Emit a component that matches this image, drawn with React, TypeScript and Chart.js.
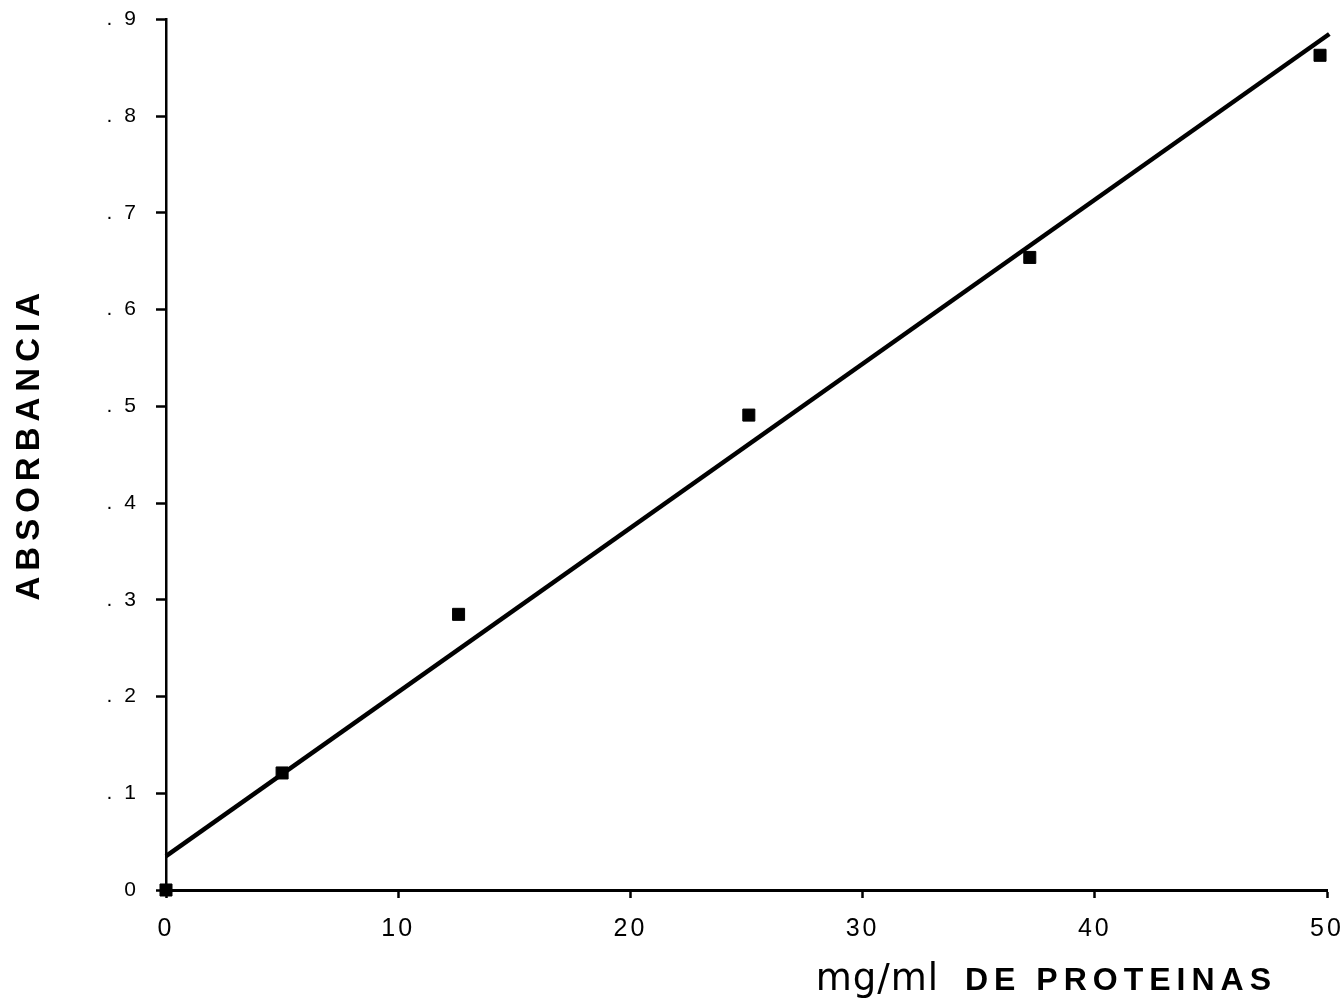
import React, { useEffect, useRef } from "react";
import { Chart, registerables } from "chart.js";

Chart.register(...registerables);

const concentration = [0, 5, 12.6, 25.1, 37.2, 49.7];
const absorbance = [0, 0.121, 0.285, 0.491, 0.654, 0.863];
const fitX = [0, 50.1];
const fitY = [0.035, 0.885];
const xTicks = [0, 10, 20, 30, 40, 50];
const yTicks = [0, 0.1, 0.2, 0.3, 0.4, 0.5, 0.6, 0.7, 0.8, 0.9];
const yTitle = "ABSORBANCIA";
const xTitleUnit = "mg/ml";
const xTitleText = "DE PROTEINAS";

const W = 1340;
const H = 1004;

function patchLabelSpacing(scale: any, spacing: string) {
  if (scale.__spacingPatched) return;
  const orig = scale.drawLabels;
  scale.drawLabels = function (area: any) {
    const c = this.ctx as any;
    const prev = c.letterSpacing;
    c.letterSpacing = spacing;
    orig.call(this, area);
    c.letterSpacing = prev || "0px";
  };
  scale.__spacingPatched = true;
}

const titlesPlugin = {
  id: "titles",
  afterDraw(chart: any) {
    const ctx = chart.ctx as any;
    const area = chart.chartArea;
    ctx.save();
    ctx.fillStyle = "#000";
    // y title
    ctx.letterSpacing = "6px";
    ctx.font = "bold 33px 'Liberation Sans', Arial, sans-serif";
    ctx.translate(30, (area.top + area.bottom) / 2 - 8);
    ctx.rotate(-Math.PI / 2);
    ctx.textAlign = "center";
    ctx.textBaseline = "middle";
    ctx.fillText(yTitle, 3, 0);
    ctx.restore();

    ctx.save();
    ctx.fillStyle = "#000";
    ctx.textBaseline = "alphabetic";
    ctx.textAlign = "left";
    ctx.letterSpacing = "6px";
    ctx.font = "bold 32px 'Liberation Sans', Arial, sans-serif";
    const baseY = area.bottom + 100;
    const textLeft = area.right - 362;
    ctx.fillText(xTitleText, textLeft, baseY);
    ctx.letterSpacing = "1px";
    ctx.font = "37px 'DejaVu Sans', sans-serif";
    ctx.textAlign = "right";
    ctx.fillText(xTitleUnit, textLeft - 26, baseY);
    ctx.restore();
  },
};

export default function App() {
  const ref = useRef<HTMLCanvasElement>(null);
  useEffect(() => {
    const canvas = ref.current;
    if (!canvas) return;
    const chart = new Chart(canvas, {
      type: "scatter",
      data: {
        datasets: [
          {
            label: "data",
            data: concentration.map((x, i) => ({ x, y: absorbance[i] })),
            pointStyle: "rect",
            pointRadius: 8.5,
            pointBackgroundColor: "#000",
            pointBorderColor: "#000",
            pointBorderWidth: 1,
            showLine: false,
            clip: false as any,
          },
          {
            label: "fit",
            data: fitX.map((x, i) => ({ x, y: fitY[i] })),
            showLine: true,
            borderColor: "#000",
            borderWidth: 4.5,
            pointRadius: 0,
            clip: false as any,
          },
        ],
      },
      options: {
        responsive: false,
        animation: false,
        devicePixelRatio: 1,
        layout: { padding: { top: 19.5, right: 13, bottom: 0, left: 0 } },
        plugins: {
          legend: { display: false },
          tooltip: { enabled: false },
          title: { display: false },
        },
        scales: {
          x: {
            type: "linear",
            min: 0,
            max: 50,
            afterBuildTicks: (scale: any) => {
              scale.ticks = xTicks.map((v) => ({ value: v }));
            },
            ticks: {
              color: "#000",
              font: { family: "'Liberation Sans', Arial, sans-serif", size: 25 },
              padding: 16,
              maxRotation: 0,
              autoSkip: false,
              callback: (v: any) => String(v),
            },
            grid: {
              display: true,
              drawOnChartArea: false,
              drawTicks: true,
              tickLength: 8,
              tickWidth: 2.5,
              tickColor: "#000",
              color: "#000",
            },
            border: { display: true, color: "#000", width: 3 },
            afterFit: (scale: any) => {
              scale.height = H - 890;
              scale.paddingLeft = 0;
              scale.paddingRight = 0;
              patchLabelSpacing(scale, "3px");
            },
          },
          y: {
            type: "linear",
            min: 0,
            max: 0.9,
            afterBuildTicks: (scale: any) => {
              scale.ticks = yTicks.map((v) => ({ value: v }));
            },
            ticks: {
              color: "#000",
              font: { family: "'Liberation Sans', Arial, sans-serif", size: 21 },
              padding: 8,
              autoSkip: false,
              callback: (v: any) => {
                const n = Math.round(Number(v) * 10);
                return n === 0 ? "0" : "." + n;
              },
            },
            grid: {
              display: true,
              drawOnChartArea: false,
              drawTicks: true,
              tickLength: 10,
              tickWidth: 2.5,
              tickColor: "#000",
              color: "#000",
            },
            border: { display: true, color: "#000", width: 2.5 },
            afterFit: (scale: any) => {
              scale.width = 166;
              scale.paddingTop = 0;
              scale.paddingBottom = 0;
              patchLabelSpacing(scale, "12px");
            },
          },
        },
      },
      plugins: [titlesPlugin],
    });
    return () => chart.destroy();
  }, []);

  return (
    <div style={{ position: "fixed", left: 0, top: 0, width: W, height: H, background: "#fff" }}>
      <canvas ref={ref} width={W} height={H} style={{ width: W, height: H, display: "block" }} />
    </div>
  );
}
